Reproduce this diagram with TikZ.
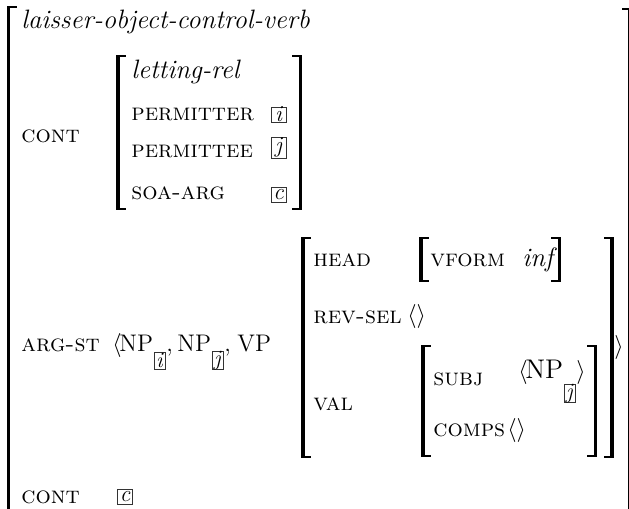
\documentclass[tikz,border=0pt]{standalone}
\newcommand\LBr[4]{\fill (#1-#4,#2) rectangle (#1+#4,#3); \fill (#1-#4,#2) rectangle (#1+8,#2+1.6); \fill (#1-#4,#3-1.6) rectangle (#1+8,#3);}
\newcommand\RBr[4]{\fill (#1-#4,#2) rectangle (#1+#4,#3); \fill (#1-8,#2) rectangle (#1+#4,#2+1.6); \fill (#1-8,#3-1.6) rectangle (#1+#4,#3);}
\tikzset{
  sc/.style={anchor=base west, inner sep=0pt, font=\fontsize{12}{14}\selectfont\scshape},
  ty/.style={anchor=base west, inner sep=0pt, font=\fontsize{13.3}{15}\selectfont\itshape},
  rm/.style={anchor=base west, inner sep=0pt, font=\fontsize{12}{14}\selectfont},
  rmbig/.style={anchor=base west, inner sep=0pt, font=\fontsize{13.5}{15}\selectfont},
  tag/.style={draw=black!80, line width=0.4pt, inner sep=0pt, minimum width=7.5pt, minimum height=7.5pt, font=\fontsize{11.5}{13}\selectfont\itshape},
  tagsub/.style={draw=black!80, line width=0.4pt, inner sep=0pt, minimum width=5.5pt, minimum height=8.5pt, font=\fontsize{11}{13}\selectfont\itshape},
}
\begin{document}
\begin{tikzpicture}[x=0.5pt, y=-0.5pt]
\useasboundingbox (0,0) rectangle (629,509);
\clip (0,0) rectangle (629,509);
\fill[white] (0,0) rectangle (629,509);
% outer brackets
\LBr{9}{6}{540}{1.5}
\RBr{629.6}{8}{540}{1.4}
\node[ty] (t0) at (21,28) {laisser-object-control-verb};
% CONT
\node[sc] (a1) at (21,142) {cont};
\LBr{118}{55}{210}{1.8}
\RBr{300.5}{55}{210}{1.8}
\node[ty] (t1) at (131,78) {letting-rel};
\node[sc] (a2) at (131,120) {permitter};
\node[tag] (g1) at (278.5,114.5) {i};
\node[sc] (a3) at (131,157) {permittee};
\node[tag, minimum height=10.5pt] (g2) at (278.5,147.5) {j};
\node[sc] (a4) at (131,199) {soa-arg};
\node[tag] (g3) at (278.5,195) {c};
% ARG-ST
\node[sc] (a5) at (21,351) {arg-st};
\node[rm] (l1) at (112,351) {$\langle$};
\node[rm] (n1) at (119,351) {NP};
\node[tagsub] (s1) at (159.5,360.5) {i};
\node[rm] (c1) at (166,351) {,};
\node[rm] (n2) at (177,351) {NP};
\node[tagsub] (s2) at (217.5,360.5) {j};
\node[rm] (c2) at (224,351) {,};
\node[rm] (vp) at (237,351) {VP};
% VP AVM
\LBr{303}{237}{458}{1.8}
\RBr{612}{237}{458}{1.8}
\node[rm] (r1) at (614,353) {$\rangle$};
\node[sc] (h1) at (313,266) {head};
\LBr{421}{237}{282}{1.8}
\RBr{559.5}{237}{282}{1.8}
\node[sc] (h2) at (430,266) {vform};
\node[ty] (h3) at (522,266) {inf};
\node[sc] (h4) at (313,323) {rev-sel};
\node[rm] (h5) at (407,322) {$\langle\rangle$};
\node[sc] (h6) at (313,410) {val};
\LBr{423}{345}{457}{1.8}
\RBr{595.5}{345}{457}{1.8}
\node[sc] (v1) at (433,386) {subj};
\node[rm] (v2) at (518,378) {$\langle$};
\node[rmbig] (v3) at (525,378) {NP};
\node[tagsub] (v4) at (569.5,393.5) {j};
\node[rm] (v5) at (576,378) {$\rangle$};
\node[sc] (v6) at (433,437) {comps};
\node[rm] (v7) at (507,436) {$\langle\rangle$};
% last CONT
\node[sc] (a6) at (21,503) {cont};
\node[tag] (g4) at (125,496.5) {c};
\end{tikzpicture}
\end{document}
